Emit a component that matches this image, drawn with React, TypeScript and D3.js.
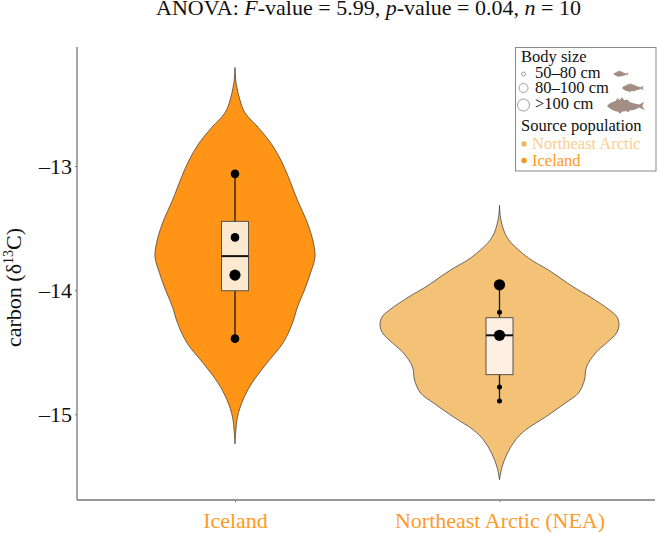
import { useEffect, useRef } from 'react';
import * as d3 from 'd3';

const width = 657;
const height = 533;

const categories = ['Iceland', 'Northeast Arctic (NEA)'];
const yTicks = [-13, -14, -15];
const fillColors = ['#FF9416', '#F4C277'];
const labelColors = ['#FF9A22', '#FD9B2A'];

// violin outlines: [carbon, density]
const icelandViolin: [number, number][] = [
  [-12.205, 0], [-12.334, 0.012], [-12.469, 0.05], [-12.57, 0.1], [-12.686, 0.23],
  [-12.815, 0.36], [-12.952, 0.46], [-13.089, 0.535], [-13.274, 0.625], [-13.459, 0.725],
  [-13.62, 0.785], [-13.733, 0.8], [-13.862, 0.755], [-13.998, 0.695], [-14.135, 0.625],
  [-14.264, 0.575], [-14.425, 0.48], [-14.586, 0.32], [-14.747, 0.17], [-14.884, 0.08],
  [-15.021, 0.025], [-15.238, 0],
];
const neaViolin: [number, number][] = [
  [-13.314, 0], [-13.435, 0.015], [-13.58, 0.08], [-13.74, 0.29], [-13.837, 0.49],
  [-13.974, 0.74], [-14.055, 0.91], [-14.159, 1.1], [-14.215, 1.175], [-14.28, 1.195],
  [-14.344, 1.17], [-14.425, 1.07], [-14.506, 0.96], [-14.618, 0.87], [-14.723, 0.85],
  [-14.828, 0.79], [-14.908, 0.66], [-15.021, 0.46], [-15.126, 0.26], [-15.206, 0.16],
  [-15.311, 0.08], [-15.424, 0.025], [-15.528, 0],
];
const violins = [icelandViolin, neaViolin];

// q1, median, q3
const boxes = [
  [-13.445, -13.725, -14.004],
  [-14.221, -14.363, -14.68],
];
const boxFill = ['#FDE8D0', '#FDF0E3'];

// carbon, size class
const icelandPoints: [number, number][] = [[-13.062, 1], [-13.574, 1], [-13.878, 2], [-14.39, 1]];
const neaPoints: [number, number][] = [[-13.956, 2], [-14.178, 0], [-14.363, 2], [-14.779, 0], [-14.892, 0]];
const points = [icelandPoints, neaPoints];

const sizeLabels = ['50–80 cm', '80–100 cm', '>100 cm'];
const sourceLabels = ['Northeast Arctic', 'Iceland'];
const sourceColors = ['#FDCD8C', '#FF9A22'];
const font = '"Liberation Serif", "Times New Roman", serif';
const fishColor = '#A28E84';
const fishPath =
  'M0,0 C3,-4 9,-6 14,-7 L17,-11 L20,-8 L24,-12 L28,-8 L33,-9 L36,-6 C42,-4 47,-3 52,-2 L60,-6 L57,0 L61,6 L52,2 C47,5 42,6 37,6 L34,9 L31,7 L24,8 L21,11 L18,8 C11,7 4,4 0,0 Z';

export default function App() {
  const svgRef = useRef<SVGSVGElement>(null);

  useEffect(() => {
    if (!svgRef.current) return;
    const svg = d3.select(svgRef.current);
    svg.selectAll('*').remove();

    const margin = { top: 47, right: 2, bottom: 33, left: 77 };
    const innerHeight = height - margin.top - margin.bottom;

    const x = d3.scalePoint<string>()
      .domain(categories)
      .range([235 - margin.left, 499.5 - margin.left]);
    const y = d3.scaleLinear()
      .domain([-12.04, -15.69])
      .range([0, innerHeight]);
    const density = d3.scaleLinear().domain([0, 1]).range([0, 100]);
    const radius = d3.scaleOrdinal<number, number>().domain([0, 1, 2]).range([2.5, 4.3, 5.6]);

    const g = svg.append('g').attr('transform', `translate(${margin.left},${margin.top})`);

    const area = d3.area<[number, number]>()
      .x0(d => -density(d[1]))
      .x1(d => density(d[1]))
      .y(d => y(d[0]))
      .curve(d3.curveCatmullRom.alpha(0.5));

    categories.forEach((cat, i) => {
      const group = g.append('g').attr('transform', `translate(${x(cat)},0)`);

      group.append('path')
        .datum(violins[i])
        .attr('d', area)
        .attr('fill', fillColors[i])
        .attr('stroke', '#333')
        .attr('stroke-width', 0.7);

      const pts = points[i];
      const [q1, med, q3] = boxes[i];
      const boxW = 13.5;

      group.append('line')
        .attr('y1', y(d3.max(pts, d => d[0]) as number))
        .attr('y2', y(d3.min(pts, d => d[0]) as number))
        .attr('stroke', '#1a1a1a')
        .attr('stroke-width', 1.3);

      group.append('rect')
        .attr('x', -boxW)
        .attr('width', boxW * 2)
        .attr('y', y(q1))
        .attr('height', y(q3) - y(q1))
        .attr('fill', boxFill[i])
        .attr('stroke', '#5a5048')
        .attr('stroke-width', 1);

      group.append('line')
        .attr('x1', -boxW)
        .attr('x2', boxW)
        .attr('y1', y(med))
        .attr('y2', y(med))
        .attr('stroke', '#111')
        .attr('stroke-width', 2);

      pts.forEach(p => {
        group.append('circle')
          .attr('cy', y(p[0]))
          .attr('r', radius(p[1]))
          .attr('fill', '#000');
      });
    });

    // axes
    const yAxis = d3.axisLeft(y)
      .tickValues(yTicks)
      .tickSize(2)
      .tickPadding(3)
      .tickFormat(d => `–${Math.abs(d as number)}`);
    const yG = g.append('g').call(yAxis);
    const xAxis = d3.axisBottom(x).tickSize(2).tickPadding(10.5);
    const xG = g.append('g').attr('transform', `translate(0,${innerHeight})`).call(xAxis);

    yG.selectAll('text').attr('font-family', font).attr('font-size', 22).attr('fill', '#111');
    xG.selectAll('text')
      .attr('font-family', font)
      .attr('font-size', 22)
      .attr('fill', (_d, i) => labelColors[i]);
    [yG, xG].forEach(a => {
      a.select('.domain').attr('stroke', '#777').attr('stroke-width', 1.3);
      a.selectAll('.tick line').attr('stroke', '#777');
    });
    // open axis, no end caps beyond the plot corner
    xG.select('.domain').attr('d', `M0,0H${width - margin.left - margin.right}`);
    yG.select('.domain').attr('d', `M0,0V${innerHeight}`);

    // axis title
    const yTitle = svg.append('text')
      .attr('transform', 'translate(21,347) rotate(-90)')
      .attr('font-family', font)
      .attr('font-size', 22)
      .attr('fill', '#111');
    yTitle.append('tspan').text('carbon (δ');
    yTitle.append('tspan').attr('font-size', 14).attr('dy', -8).text('13');
    yTitle.append('tspan').attr('dy', 8).text('C)');

    // title
    const title = svg.append('text')
      .attr('x', 368.5)
      .attr('y', 15)
      .attr('text-anchor', 'middle')
      .attr('font-family', font)
      .attr('font-size', 22)
      .attr('fill', '#111');
    title.append('tspan').text('ANOVA: ');
    title.append('tspan').attr('font-style', 'italic').text('F');
    title.append('tspan').text('-value = 5.99, ');
    title.append('tspan').attr('font-style', 'italic').text('p');
    title.append('tspan').text('-value = 0.04, ');
    title.append('tspan').attr('font-style', 'italic').text('n');
    title.append('tspan').text(' = 10');

    // legend
    const legend = svg.append('g').attr('font-family', font).attr('font-size', 16.5);
    legend.append('rect')
      .attr('x', 515.5)
      .attr('y', 47.5)
      .attr('width', 140.5)
      .attr('height', 123.5)
      .attr('fill', '#fff')
      .attr('stroke', '#888')
      .attr('stroke-width', 1);
    legend.append('text').attr('x', 521).attr('y', 62).attr('fill', '#111').text('Body size');
    legend.append('text').attr('x', 521).attr('y', 131).attr('fill', '#111').text('Source population');

    const sizeRows = [
      { ty: 78, cy: 74, r: 2, fx: 613.5, fy: 74, sx: 0.25, sy: 0.3 },
      { ty: 92.5, cy: 88, r: 4.5, fx: 622, fy: 88, sx: 0.36, sy: 0.42 },
      { ty: 109, cy: 105, r: 6, fx: 607, fy: 106, sx: 0.62, sy: 0.72 },
    ];
    sizeLabels.forEach((label, i) => {
      const row = sizeRows[i];
      legend.append('circle')
        .attr('cx', 523.5)
        .attr('cy', row.cy)
        .attr('r', row.r)
        .attr('fill', '#fff')
        .attr('stroke', '#777')
        .attr('stroke-width', 0.7);
      legend.append('text').attr('x', 535).attr('y', row.ty).attr('fill', '#111').text(label);
      legend.append('path')
        .attr('d', fishPath)
        .attr('transform', `translate(${row.fx},${row.fy}) scale(${row.sx},${row.sy})`)
        .attr('fill', fishColor);
    });

    const sourceY = [149, 165.5];
    sourceLabels.forEach((label, i) => {
      legend.append('circle')
        .attr('cx', 524)
        .attr('cy', sourceY[i] - 5)
        .attr('r', 2.7)
        .attr('fill', i === 0 ? '#F0B566' : '#FF9416');
      legend.append('text')
        .attr('x', 532)
        .attr('y', sourceY[i])
        .attr('fill', sourceColors[i])
        .text(label);
    });
  }, []);

  return (
    <svg
      ref={svgRef}
      width={width}
      height={height}
      style={{ position: 'absolute', left: 0, top: 0, background: '#fff' }}
    />
  );
}
